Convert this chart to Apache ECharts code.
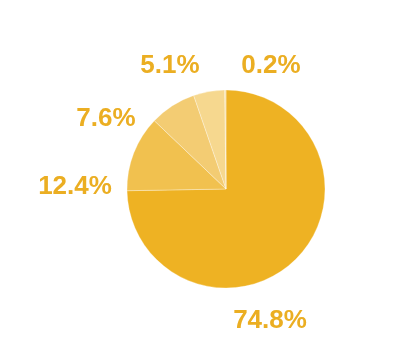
<!DOCTYPE html>
<html>
<head>
<meta charset="utf-8">
<script src="https://cdn.jsdelivr.net/npm/echarts@6/dist/echarts.min.js"></script>
<style>
  html, body { margin: 0; padding: 0; background: #fff; }
  #chart { width: 416px; height: 353px; }
</style>
</head>
<body>
<div id="chart"></div>
<script>
const shares = [74.8, 12.4, 7.6, 5.1, 0.2]
const sliceColors = ['#EEB223', '#F1C14F', '#F3CC73', '#F6D88F', '#F8E1A8']

// label centres, relative to pie centre
const labelOffsets = [[44, 132], [-151, -2], [-120, -70], [-56, -123], [45, -123]]

const pieCenter = [226, 189]

const chart = echarts.init(document.getElementById('chart'))

chart.setOption({
  animation: false,
  series: [{
    type: 'pie',
    center: pieCenter,
    radius: 99,
    startAngle: 90,
    clockwise: true,
    avoidLabelOverlap: false,
    data: shares.map((v, i) => ({
      value: v,
      itemStyle: { color: sliceColors[i] }
    })),
    itemStyle: { borderColor: 'rgba(255,255,255,0.6)', borderWidth: 0.5 },
    label: {
      show: true,
      position: 'outside',
      formatter: p => p.value.toFixed(1) + '%',
      color: '#EBAE22',
      fontFamily: 'Liberation Sans',
      fontWeight: 'bold',
      fontSize: 26
    },
    labelLine: { show: false },
    labelLayout: p => ({
      x: pieCenter[0] + labelOffsets[p.dataIndex][0],
      y: pieCenter[1] + labelOffsets[p.dataIndex][1],
      align: 'center',
      verticalAlign: 'middle',
      hideOverlap: false
    })
  }]
})
</script>
</body>
</html>
